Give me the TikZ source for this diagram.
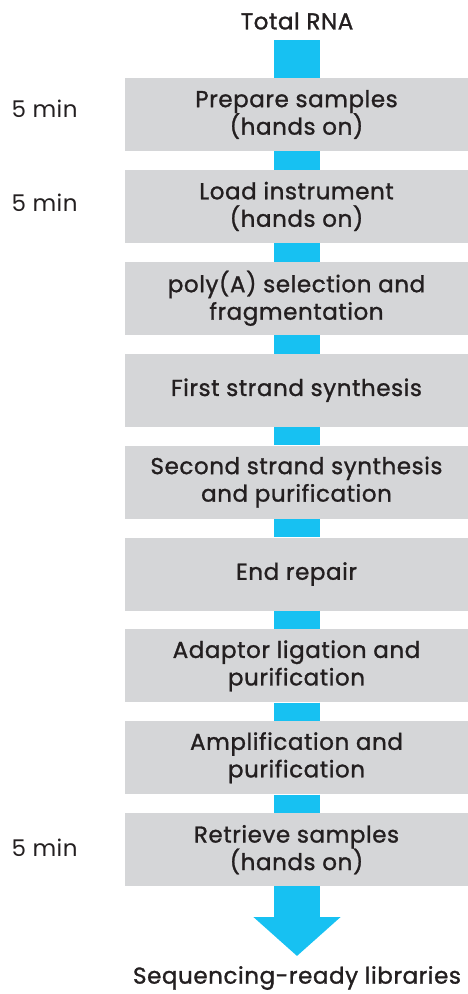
\documentclass[tikz,border=0pt]{standalone}
\usepackage{fontspec}
\setmainfont{Poppins}[LetterSpace=2]
\newfontfamily\medfont{Poppins}[LetterSpace=2.5, FakeBold=1.2]
\usetikzlibrary{positioning, arrows.meta}

\definecolor{boxgray}{RGB}{213,214,216}
\definecolor{flowblue}{RGB}{23,193,242}
\definecolor{inkgray}{RGB}{35,31,32}

\begin{document}
\begin{tikzpicture}[
        x=1pt, y=1pt,
        every node/.style={text=inkgray, align=center, font=\medfont\fontsize{23}{27.5}\selectfont},
        stepbox/.style={fill=boxgray, minimum width=343pt, minimum height=73pt, inner sep=0pt},
        timelbl/.style={anchor=base west, font=\rmfamily\fontsize{23}{27}\selectfont},
        flow/.style={draw=flowblue, line width=46pt}
    ]
    \useasboundingbox (0,0) rectangle (468,-994);

    \node (rna) at (297,-21) {Total RNA};
    \coordinate (top) at (297,-40);

    \node[stepbox] (s1) at (296.5,-114.5) {Prepare samples\\(hands on)};
    \node[stepbox, below=18.5pt of s1] (s2) {Load instrument\\(hands on)};
    \node[stepbox, below=18.5pt of s2] (s3) {poly(A) selection and\\fragmentation};
    \node[stepbox, below=18.5pt of s3] (s4) {First strand synthesis};
    \node[stepbox, below=18.5pt of s4] (s5) {Second strand synthesis\\and purification};
    \node[stepbox, below=18.5pt of s5] (s6) {End repair};
    \node[stepbox, below=18.5pt of s6] (s7) {Adaptor ligation and\\purification};
    \node[stepbox, below=18.5pt of s7] (s8) {Amplification and\\purification};
    \node[stepbox, below=18.5pt of s8] (s9) {Retrieve samples\\(hands on)};

    \coordinate (tip) at (297,-956);
    \node (libs) at (297,-978) {Sequencing-ready libraries};

    % hands-on times
    \node[timelbl] (t1) at (8,-117.5) {5 min};
    \node[timelbl] (t2) at (8,-211.5) {5 min};
    \node[timelbl] (t9) at (8,-856) {5 min};

    % blue flow
    \draw[flow] (top) -- (s1.north -| top);
    \foreach \a/\b in {s1/s2, s2/s3, s3/s4, s4/s5, s5/s6, s6/s7, s7/s8, s8/s9}
        \draw[flow] (\a.south -| top) -- (\b.north -| top);
    \draw[flow, -{Triangle[width=85pt, length=39pt]}] (s9.south -| top) -- (tip);
\end{tikzpicture}
\end{document}
